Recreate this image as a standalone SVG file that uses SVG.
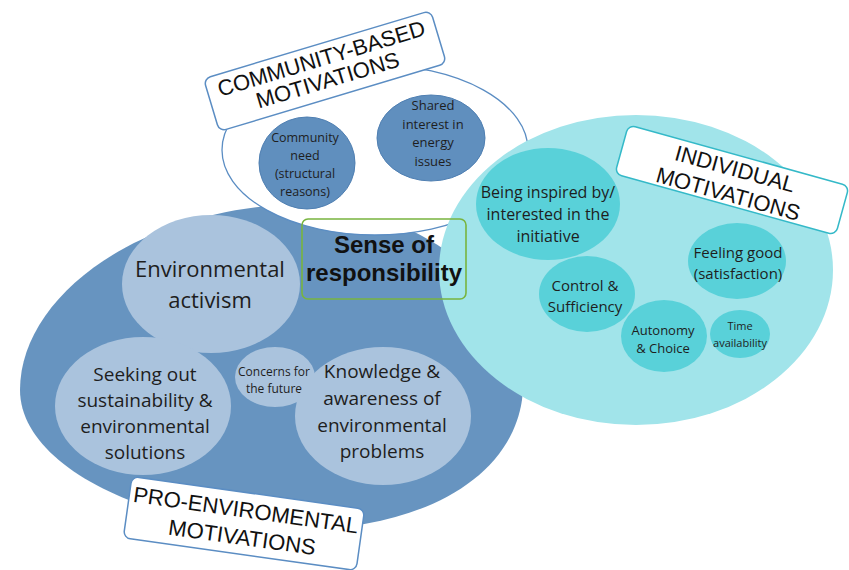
<svg xmlns="http://www.w3.org/2000/svg" width="849" height="570" viewBox="0 0 849 570">
<style>
.t{font-family:"Open Sans","Noto Sans","DejaVu Sans",sans-serif;fill:#1e1e1e;text-anchor:middle}
.lbl{font-family:"Liberation Sans",Arial,sans-serif;font-size:22px;fill:#111;text-anchor:middle}
.lb{fill:#aac3dd}
.cy{fill:#59d1d9}
.cb{fill:#608fbe;stroke:#4f7fb2;stroke-width:1}
</style>
<rect width="849" height="570" fill="#ffffff"/>

<g id="pro-environmental">
<path d="M20,390 C20,300 130,215 280,205 C430,200 535,300 522,400 C510,480 420,528 300,530 C160,532 20,470 20,390 Z" fill="#6794c0"/>
</g>

<g id="community-based">
<ellipse cx="375" cy="150" rx="153" ry="85" fill="#ffffff" stroke="#5b8dc3" stroke-width="1.3"/>
<g id="community-need">
<ellipse class="cb" cx="307" cy="163" rx="48" ry="46"/>
<text class="t" font-size="12.5" x="305"><tspan x="305" y="142">Community</tspan><tspan x="305" y="160">need</tspan><tspan x="305" y="178">(structural</tspan><tspan x="305" y="196">reasons)</tspan></text>
</g>
<g id="shared-interest">
<ellipse class="cb" cx="431" cy="138" rx="54" ry="43"/>
<text class="t" font-size="13" x="433"><tspan x="433" y="110">Shared</tspan><tspan x="433" y="128.5">interest in</tspan><tspan x="433" y="147">energy</tspan><tspan x="433" y="165.5">issues</tspan></text>
</g>
</g>

<g id="individual">
<ellipse cx="636" cy="270" rx="197" ry="155" fill="#a1e4ea"/>
<g id="inspired">
<ellipse class="cy" cx="548" cy="204" rx="72" ry="56"/>
<text class="t" font-size="16"><tspan x="548" y="198">Being inspired by/</tspan><tspan x="548" y="220">interested in the</tspan><tspan x="548" y="242">initiative</tspan></text>
</g>
<g id="control">
<ellipse class="cy" cx="587" cy="294" rx="48" ry="38"/>
<text class="t" font-size="15"><tspan x="585" y="291">Control &amp;</tspan><tspan x="585" y="312">Sufficiency</tspan></text>
</g>
<g id="feeling-good">
<ellipse class="cy" cx="737" cy="261" rx="49" ry="38"/>
<text class="t" font-size="15"><tspan x="738" y="258">Feeling good</tspan><tspan x="738" y="279">(satisfaction)</tspan></text>
</g>
<g id="autonomy">
<ellipse class="cy" cx="664" cy="336" rx="43" ry="36"/>
<text class="t" font-size="13"><tspan x="663" y="335">Autonomy</tspan><tspan x="663" y="353">&amp; Choice</tspan></text>
</g>
<g id="time">
<ellipse class="cy" cx="740" cy="334" rx="30" ry="24"/>
<text class="t" font-size="11"><tspan x="740" y="330">Time</tspan><tspan x="740" y="347">availability</tspan></text>
</g>
</g>

<g id="env-activism">
<ellipse class="lb" cx="211" cy="284" rx="89" ry="69"/>
<text class="t" font-size="22"><tspan x="210" y="277">Environmental</tspan><tspan x="210" y="308">activism</tspan></text>
</g>
<g id="seeking-out">
<ellipse class="lb" cx="143" cy="406" rx="88" ry="69"/>
<text class="t" font-size="19"><tspan x="145" y="381">Seeking out</tspan><tspan x="145" y="407">sustainability &amp;</tspan><tspan x="145" y="433">environmental</tspan><tspan x="145" y="459">solutions</tspan></text>
</g>
<g id="concerns">
<ellipse class="lb" cx="275" cy="377" rx="40" ry="30"/>
<text class="t" font-size="12"><tspan x="274" y="376">Concerns for</tspan><tspan x="274" y="393">the future</tspan></text>
</g>
<g id="knowledge">
<ellipse class="lb" cx="383" cy="416" rx="88" ry="69"/>
<text class="t" font-size="19"><tspan x="382" y="378">Knowledge &amp;</tspan><tspan x="382" y="405">awareness of</tspan><tspan x="382" y="432">environmental</tspan><tspan x="382" y="458">problems</tspan></text>
</g>

<g id="label-community" transform="translate(325,71) rotate(-16.7)">
<rect x="-118.5" y="-27.5" width="237" height="55" rx="7" fill="#ffffff" stroke="#5b8dc3" stroke-width="1.5"/>
<text class="lbl"><tspan x="0" y="-5.5">COMMUNITY-BASED</tspan><tspan x="0" y="17">MOTIVATIONS</tspan></text>
</g>

<g id="label-individual" transform="translate(732,180) rotate(15.5)">
<rect x="-114.5" y="-25.5" width="229" height="51" rx="7" fill="#ffffff" stroke="#34b9c8" stroke-width="1.5"/>
<text class="lbl"><tspan x="0" y="-4">INDIVIDUAL</tspan><tspan x="0" y="22">MOTIVATIONS</tspan></text>
</g>

<g id="label-pro-env" transform="translate(244,523.5) rotate(8)">
<rect x="-117.5" y="-31" width="235" height="62" rx="7" fill="#ffffff" stroke="#5b8dc3" stroke-width="1.5"/>
<text class="lbl"><tspan x="0" y="-6">PRO-ENVIROMENTAL</tspan><tspan x="0" y="21.5">MOTIVATIONS</tspan></text>
</g>

<g id="sense-of-responsibility">
<rect x="302" y="219" width="164" height="80" rx="6" fill="none" stroke="#78b43f" stroke-width="1.6"/>
<text font-family="'Liberation Sans',Arial,sans-serif" font-size="24" font-weight="bold" fill="#111" text-anchor="middle"><tspan x="384" y="253">Sense of</tspan><tspan x="384" y="281">responsibility</tspan></text>
</g>
</svg>
